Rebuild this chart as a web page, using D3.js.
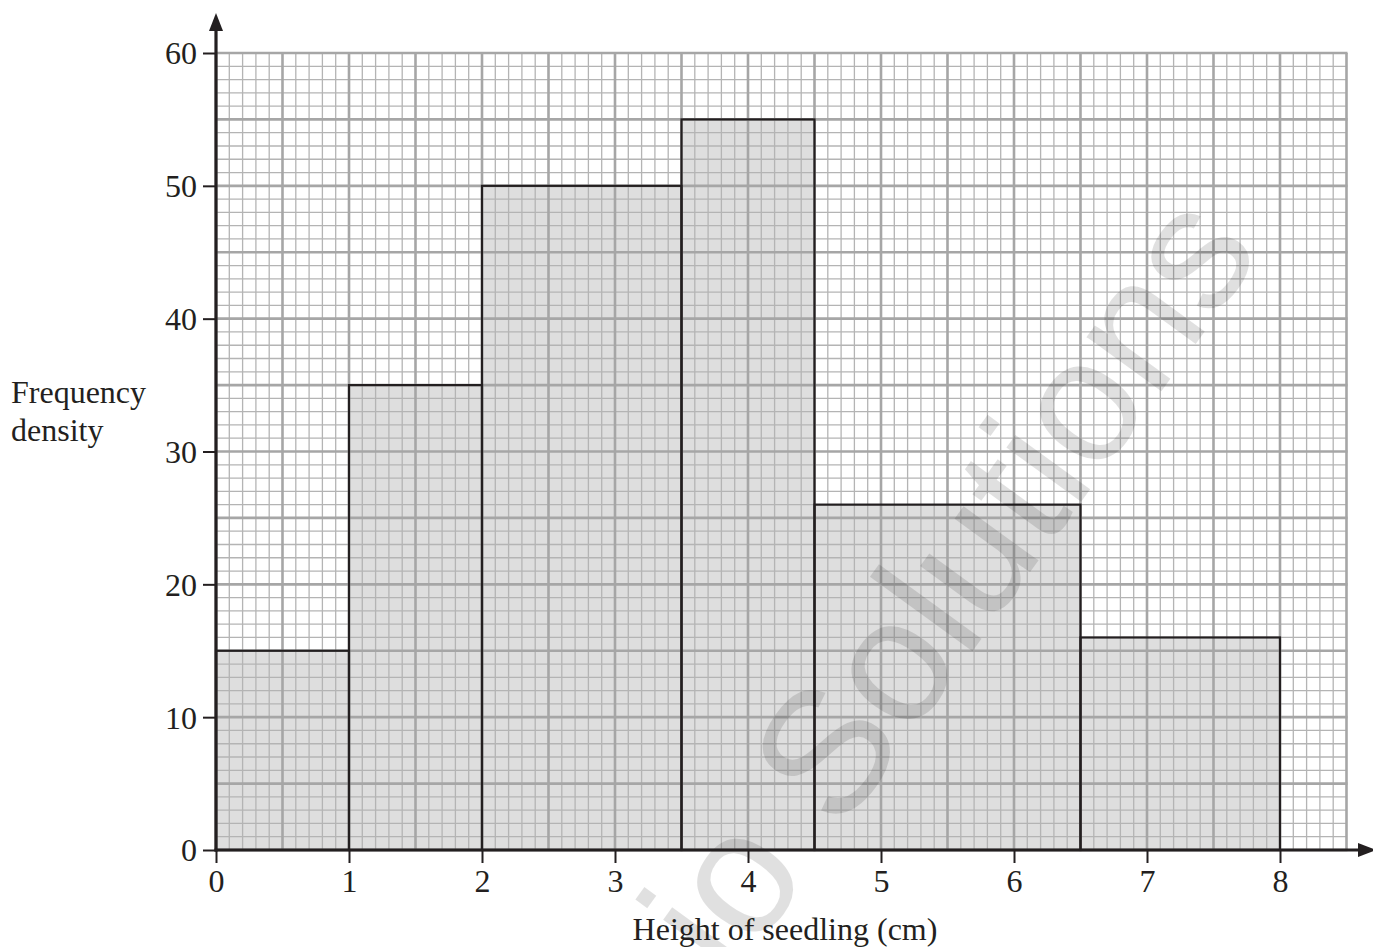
<!DOCTYPE html>
<html>
<head>
<meta charset="utf-8">
<script src="https://cdn.jsdelivr.net/npm/d3@7"></script>
<style>
  body { margin: 0; background: #fff; }
  text { font-family: "Liberation Serif", "DejaVu Serif", serif; fill: #231f20; }
</style>
</head>
<body>
<svg width="1373" height="947"></svg>
<script>
var svg = d3.select('svg');

// class boundaries and frequency densities
var classStart = [0, 1, 2, 3.5, 4.5, 6.5];
var classEnd   = [1, 2, 3.5, 4.5, 6.5, 8];
var density    = [15, 35, 50, 55, 26, 16];

var xTicks = [0, 1, 2, 3, 4, 5, 6, 7, 8];
var yTicks = [0, 10, 20, 30, 40, 50, 60];

var bars = classStart.map(function(s, i){
    return {x0: s, x1: classEnd[i], fd: density[i]};
});

var x = d3.scaleLinear().domain([0, 8.5]).range([216, 1346.5]);
var y = d3.scaleLinear().domain([0, 60]).range([850, 53]);

// bar fills under the graph paper
svg.selectAll('.fill')
    .data(bars).enter()
    .append('rect')
    .attr('x', function(d){ return x(d.x0) })
    .attr('y', function(d){ return y(d.fd) })
    .attr('width', function(d){ return x(d.x1) - x(d.x0) })
    .attr('height', function(d){ return y(0) - y(d.fd) })
    .attr('fill', '#dedede');

// graph paper: minor every 0.1 / 1, major every 0.5 / 5
var gx = d3.range(0, 86).map(function(i){ return i / 10 });
var gy = d3.range(0, 61);

var grid = svg.append('g');
grid.selectAll('.vminor')
    .data(gx.filter(function(d, i){ return i % 5 != 0 })).enter()
    .append('line')
    .attr('x1', function(d){ return x(d) }).attr('x2', function(d){ return x(d) })
    .attr('y1', y(0)).attr('y2', y(60))
    .attr('stroke', '#b4b4b4').attr('stroke-width', 1.3);
grid.selectAll('.hminor')
    .data(gy.filter(function(d){ return d % 5 != 0 })).enter()
    .append('line')
    .attr('x1', x(0)).attr('x2', x(8.5))
    .attr('y1', function(d){ return y(d) }).attr('y2', function(d){ return y(d) })
    .attr('stroke', '#b4b4b4').attr('stroke-width', 1.3);
grid.selectAll('.vmajor')
    .data(gx.filter(function(d, i){ return i % 5 == 0 })).enter()
    .append('line')
    .attr('x1', function(d){ return x(d) }).attr('x2', function(d){ return x(d) })
    .attr('y1', y(0)).attr('y2', y(60))
    .attr('stroke', '#a6a6a6').attr('stroke-width', 2.6);
grid.selectAll('.hmajor')
    .data(gy.filter(function(d){ return d % 5 == 0 })).enter()
    .append('line')
    .attr('x1', x(0)).attr('x2', x(8.5) + 1)
    .attr('y1', function(d){ return y(d) }).attr('y2', function(d){ return y(d) })
    .attr('stroke', '#a6a6a6').attr('stroke-width', 2.6);

// bar outlines
svg.selectAll('.bar')
    .data(bars).enter()
    .append('rect')
    .attr('x', function(d){ return x(d.x0) })
    .attr('y', function(d){ return y(d.fd) })
    .attr('width', function(d){ return x(d.x1) - x(d.x0) })
    .attr('height', function(d){ return y(0) - y(d.fd) })
    .attr('fill', 'none')
    .attr('stroke', '#231f20')
    .attr('stroke-width', 2.2);

// watermark
svg.append('text')
    .attr('transform', 'translate(948,582) rotate(-54)')
    .attr('text-anchor', 'middle')
    .attr('dominant-baseline', 'central')
    .style('font-family', '"Liberation Sans", Arial, sans-serif')
    .style('font-size', '175px')
    .style('fill', '#000')
    .style('fill-opacity', 0.12)
    .text('io Solutions');

// axes
var yAxis = d3.axisLeft(y).tickValues(yTicks).tickSize(13).tickPadding(6);
var xAxis = d3.axisBottom(x).tickValues(xTicks).tickSize(13).tickPadding(6);

var gY = svg.append('g').attr('transform', 'translate(' + x(0) + ',0)').call(yAxis);
var gX = svg.append('g').attr('transform', 'translate(0,' + y(0) + ')').call(xAxis);
[gX, gY].forEach(function(g){
    g.select('.domain').remove();
    g.selectAll('.tick line').attr('stroke', '#231f20').attr('stroke-width', 2);
    g.selectAll('.tick text')
        .style('font-family', '"Liberation Serif", serif')
        .style('font-size', '32px')
        .attr('fill', '#231f20');
});
gY.selectAll('.tick text').attr('dy', '0.34em');

svg.append('line')
    .attr('x1', x(0)).attr('x2', x(0))
    .attr('y1', y(0) + 1.5).attr('y2', 28)
    .attr('stroke', '#231f20').attr('stroke-width', 3.2);
svg.append('path')
    .attr('d', 'M' + x(0) + ',13 L' + (x(0) - 7) + ',31 L' + (x(0) + 7) + ',31 Z')
    .attr('fill', '#231f20');

svg.append('line')
    .attr('x1', x(0) - 1.5).attr('x2', 1360)
    .attr('y1', y(0)).attr('y2', y(0))
    .attr('stroke', '#231f20').attr('stroke-width', 3.2);
svg.append('path')
    .attr('d', 'M1376,' + y(0) + ' L1358,' + (y(0) - 7) + ' L1358,' + (y(0) + 7) + ' Z')
    .attr('fill', '#231f20');

// axis titles
svg.append('text')
    .attr('x', 11).attr('y', 403)
    .style('font-size', '32px')
    .text('Frequency');
svg.append('text')
    .attr('x', 11).attr('y', 441)
    .style('font-size', '32px')
    .text('density');
svg.append('text')
    .attr('x', 785).attr('y', 940)
    .attr('text-anchor', 'middle')
    .style('font-size', '32px')
    .text('Height of seedling (cm)');
</script>
</body>
</html>
